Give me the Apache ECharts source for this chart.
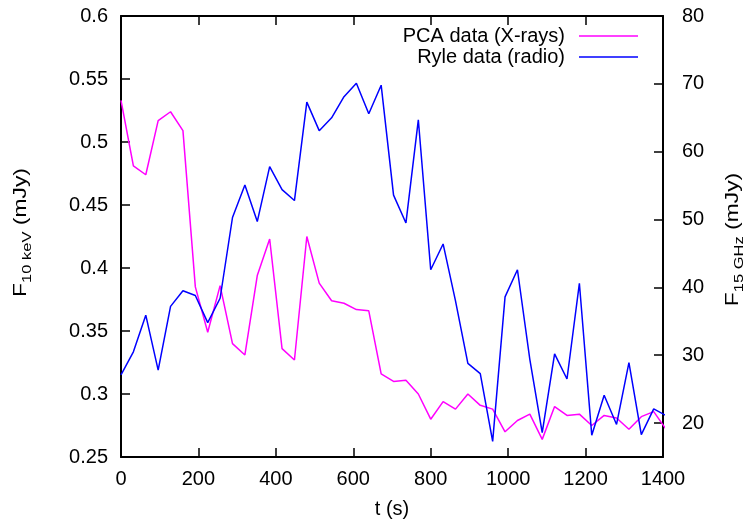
<!DOCTYPE html>
<html>
<head>
<meta charset="utf-8">
<script src="https://cdn.jsdelivr.net/npm/echarts@6/dist/echarts.min.js"></script>
<style>
  html, body { margin: 0; padding: 0; background: #fff; }
  #chart { width: 747px; height: 520px; }
</style>
</head>
<body>
<div id="chart"></div>
<script>
// sample times (s), one point every 32 s; the last one runs past the frame and gets clipped
const times = [0, 32, 64, 96, 128, 160, 192, 224, 256, 288, 320, 352, 384, 416, 448,
  480, 512, 544, 576, 608, 640, 672, 704, 736, 768, 800, 832, 864, 896, 928,
  960, 992, 1024, 1056, 1088, 1120, 1152, 1184, 1216, 1248, 1280, 1312, 1344, 1376, 1408];

// PCA X-ray flux at 10 keV (mJy), left axis
const pcaFlux = [0.533, 0.481, 0.474, 0.517, 0.524, 0.509, 0.385, 0.349, 0.386, 0.340,
  0.331, 0.394, 0.423, 0.336, 0.327, 0.425, 0.388, 0.374, 0.372, 0.367,
  0.366, 0.316, 0.310, 0.311, 0.300, 0.280, 0.294, 0.288, 0.300, 0.291,
  0.288, 0.270, 0.279, 0.284, 0.264, 0.290, 0.283, 0.284, 0.275, 0.283,
  0.281, 0.272, 0.282, 0.286, 0.272];

// Ryle radio flux at 15 GHz (mJy), right axis
const ryleFlux = [27.1, 30.5, 35.9, 27.8, 37.2, 39.5, 38.8, 34.8, 38.4, 50.3,
  55.1, 49.7, 57.8, 54.4, 52.8, 67.3, 63.1, 65.0, 68.1, 70.1,
  65.6, 69.8, 53.6, 49.5, 64.7, 42.6, 46.4, 38.0, 28.8, 27.3,
  17.3, 38.6, 42.6, 29.4, 18.6, 30.2, 26.5, 40.6, 18.2, 24.1,
  19.8, 28.9, 18.3, 22.1, 21.1];

const rightTicks = [20, 30, 40, 50, 60, 70, 80];

const FONT = '"Liberation Sans", Arial, Helvetica, sans-serif';

const pcaData = times.map((t, i) => [t, pcaFlux[i]]);
const ryleData = times.map((t, i) => [t, ryleFlux[i]]);

const axisLine = { show: true, onZero: false, lineStyle: { color: '#000', width: 2 } };
const axisTick = { show: true, inside: true, length: 9, lineStyle: { color: '#000', width: 1.5 } };
const labelStyle = { color: '#000', fontSize: 20, fontFamily: FONT };

// rotated axis titles: F with a subscript, drawn a bit stretched along the text like the original
const titleRich = {
  b: { fontSize: 18, lineHeight: 18, fontFamily: FONT, fill: '#000', verticalAlign: 'top' },
  s: { fontSize: 13, lineHeight: 13, fontFamily: FONT, fill: '#000', verticalAlign: 'top', padding: [9, 0, 0, 0] }
};

function yTitle(text, x, y) {
  return {
    type: 'text',
    x: x,
    y: y,
    rotation: Math.PI / 2,
    scaleX: 1.27,
    silent: true,
    style: {
      text: text,
      fill: '#000',
      fontSize: 18,
      fontFamily: FONT,
      align: 'center',
      verticalAlign: 'middle',
      rich: titleRich
    }
  };
}

const chart = echarts.init(document.getElementById('chart'));

chart.setOption({
  animation: false,
  backgroundColor: '#fff',
  grid: { left: 121, right: 84, top: 16, bottom: 63, outerBoundsMode: 'none' },
  legend: {
    orient: 'vertical',
    align: 'right',
    right: 104,
    top: 21,
    icon: 'rect',
    itemWidth: 59,
    itemHeight: 1.5,
    itemGap: 1,
    textStyle: { color: '#000', fontSize: 20, fontFamily: FONT, padding: [0, 9, 0, 0] },
    data: ['PCA data (X-rays)', 'Ryle data (radio)']
  },
  graphic: [
    yTitle('{b|F}{s|10 keV}{b| (mJy)}', 20.8, 232.5),
    yTitle('{b|F}{s|15 GHz}{b| (mJy)}', 733.1, 239.5)
  ],
  xAxis: [
    {
      type: 'value',
      position: 'bottom',
      min: 0,
      max: 1400,
      interval: 200,
      axisLine: axisLine,
      axisTick: axisTick,
      axisLabel: Object.assign({ margin: 12, formatter: v => String(v) }, labelStyle),
      splitLine: { show: false },
      name: 't (s)',
      nameLocation: 'middle',
      nameGap: 42,
      nameTextStyle: labelStyle
    },
    {
      type: 'value',
      position: 'top',
      min: 0,
      max: 1400,
      interval: 200,
      axisLine: axisLine,
      axisTick: axisTick,
      axisLabel: { show: false },
      splitLine: { show: false }
    }
  ],
  yAxis: [
    {
      type: 'value',
      position: 'left',
      min: 0.25,
      max: 0.6,
      interval: 0.05,
      axisLine: axisLine,
      axisTick: axisTick,
      axisLabel: Object.assign({ margin: 13 }, labelStyle),
      splitLine: { show: false }
    },
    {
      type: 'value',
      position: 'right',
      min: 15,
      max: 80,
      axisLine: axisLine,
      axisTick: Object.assign({ customValues: rightTicks }, axisTick),
      axisLabel: Object.assign({ margin: 19, customValues: rightTicks }, labelStyle),
      splitLine: { show: false }
    }
  ],
  series: [
    {
      name: 'PCA data (X-rays)',
      type: 'line',
      xAxisIndex: 0,
      yAxisIndex: 0,
      symbol: 'none',
      clip: true,
      color: '#ff00ff',
      lineStyle: { color: '#ff00ff', width: 1.5 },
      data: pcaData
    },
    {
      name: 'Ryle data (radio)',
      type: 'line',
      xAxisIndex: 0,
      yAxisIndex: 1,
      symbol: 'none',
      clip: true,
      color: '#0000ff',
      lineStyle: { color: '#0000ff', width: 1.5 },
      data: ryleData
    }
  ]
});
</script>
</body>
</html>
